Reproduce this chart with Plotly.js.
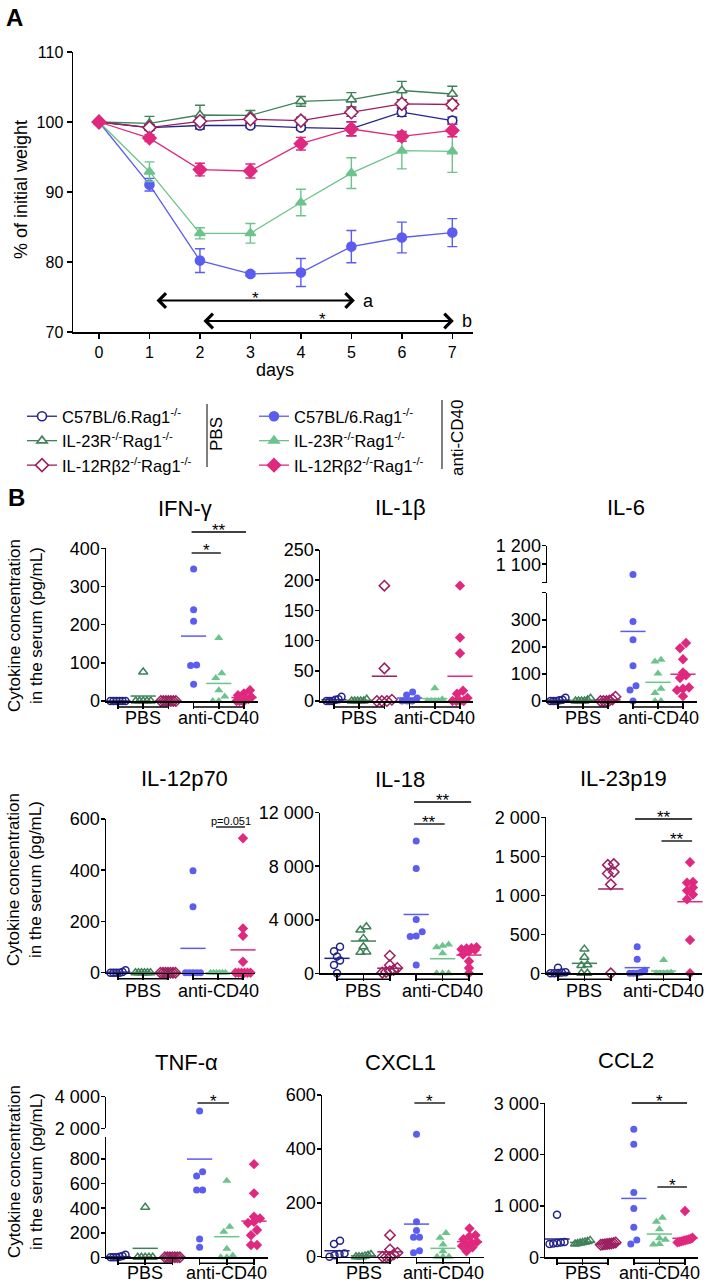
<!DOCTYPE html>
<html><head><meta charset="utf-8">
<script src="https://cdn.plot.ly/plotly-3.0.1.min.js"></script>
<style>html,body{margin:0;padding:0;background:#fff}#chart{width:709px;height:1286px}</style>
</head><body><div id="chart"></div>
<script>
// ================= DATA =================
// Panel A: body weight (% of initial) by day
const days = [0,1,2,3,4,5,6,7];
const wPbsC57   = [100, 99.2, 99.5, 99.5, 99.2, 99.05, 101.4, 100.2];
const ePbsC57   = [0, 0.3, 0.5, 0.3, 0.3, 1.0, 0.6, 0.5];
const wPbsIL23  = [100, 99.8, 101.0, 100.95, 102.95, 103.2, 104.5, 104.0];
const ePbsIL23  = [0, 1.0, 1.4, 0.7, 0.7, 1.0, 1.3, 1.1];
const wPbsIL12  = [100, 99.2, 100.1, 100.4, 100.2, 101.4, 102.6, 102.5];
const ePbsIL12  = [0, 0.4, 0.5, 0.5, 0.5, 0.6, 0.6, 0.6];
const wAntiC57  = [100, 91.05, 80.2, 78.3, 78.5, 82.2, 83.5, 84.2];
const eAntiC57  = [0, 0.9, 1.7, 0.3, 2.0, 2.3, 2.2, 2.0];
const wAntiIL23 = [100, 92.9, 84.1, 84.1, 88.5, 92.7, 95.9, 95.8];
const eAntiIL23 = [0, 1.4, 0.8, 1.4, 1.9, 2.2, 2.6, 3.0];
const wAntiIL12 = [100, 97.7, 93.2, 93.0, 96.9, 99.0, 97.95, 98.8];
const eAntiIL12 = [0, 0.5, 0.9, 1.0, 0.9, 1.0, 0.7, 0.9];

const strainNames = ['C57BL/6.Rag1<sup>-/-</sup>', 'IL-23R<sup>-/-</sup>Rag1<sup>-/-</sup>', 'IL-12Rβ2<sup>-/-</sup>Rag1<sup>-/-</sup>'];
const treatments = ['PBS', 'anti-CD40'];
const cytokines = ['IFN-γ','IL-1β','IL-6','IL-12p70','IL-18','IL-23p19','TNF-α','CXCL1','CCL2'];

// Panel B: cytokine concentrations (pg/mL); group order:
// PBS C57, PBS IL-23R, PBS IL-12Rb2, anti-CD40 C57, anti-CD40 IL-23R, anti-CD40 IL-12Rb2
const ifng = [[0,0,0,0,0,0],[76,0,0,0,0,0],[0,0,0,0,0,0,0],[346,239,209,94,93,44],[165,73,60,28,12,0,0],[28,20,15,10,5,3,0,0,0]];
const ifngMean = [0,13,0,170,46,9];
const il1b = [[7,3,2,0,0,0],[3,0,0,0,0,0],[191,54,2,0,0,0],[15,10,5,0,0,0],[21,3,0,0,0,0],[191,105,79,17,12,5,0,0,0,0]];
const il1bMean = [2,1,41,5,4,41];
const il6 = [[12,5,3,0,0,0],[10,4,0,0,0,0],[16,6,2,0,0,0],[1045,294,226,130,56,41,0],[152,146,102,45,30,0,0],[214,195,154,105,95,85,50,45,40,18]];
const il6Mean = [3,2,4,257,69,99];
const il12p70 = [[10,3,0,0,0,0],[0,0,0,0,0,0],[0,0,0,0,0,0,0],[398,257,0,0,0,0,0],[0,0,0,0,0,0],[525,173,144,43,0,0,0,0,0,0]];
const il12p70Mean = [2,0,0,95,0,89];
const il18 = [[1980,1650,1250,950,620,0],[3475,3230,2610,1985,1600,1565],[1310,600,400,250,150,100,50],[9880,7825,4024,3100,2780,2750,620],[2150,2050,1950,1500,0,0,0],[1950,1900,1850,1800,1750,1650,1400,900,400,0]];
const il18Mean = [1118,2410,380,4396,1090,1364];
const il23p19 = [[70,15,10,5,0,0],[310,205,110,100,0,0],[1400,1390,1300,1280,1140,0],[340,180,40,15,0,0,0],[170,10,5,0,0,0],[1423,1170,1160,1100,1060,1010,950,427,0]];
const il23p19Mean = [10,128,1081,72,30,918];
const tnfa = [[20,10,5,0,0,0],[407,0,0,0,0,0],[0,0,0,0,0,0,0],[3095,697,662,548,548,149,81],[623,249,208,70,15,0,0],[759,521,330,317,290,280,222,180,100,100]];
const tnfaMean = [5,73,0,800,168,295];
const cxcl1 = [[59,47,12,10,5,0],[8,5,3,0,0,0],[80,27,15,8,0,0,0],[454,130,97,72,72,22,15],[88,70,45,20,0,0,0],[105,80,75,65,55,50,45,40,35,20]];
const cxcl1Mean = [22,3,18,121,31,56];
const ccl2 = [[830,300,290,280,270,260],[330,310,300,290,280,270,260],[290,280,270,265,260,255,250,245],[2496,2204,1264,953,583,336,259],[770,693,545,370,340,260,250],[901,380,360,350,340,330,320,310,300,290]];
const ccl2Mean = [356,290,265,1147,453,370];

// significance labels: panel, group a, group b, label
const sigLabels = [
 [0,3,5,'**'],[0,3,4,'*'],[3,4,5,'p=0.051'],[4,3,5,'**'],[4,3,4,'**'],
 [5,3,5,'**'],[5,4,5,'**'],[6,3,4,'*'],[7,3,4,'*'],[8,3,5,'*'],[8,4,5,'*']
];

// ================= STYLE / LAYOUT =================
const W = 709, H = 1286;
const PX = p => p / W, PY = p => 1 - p / H;
const FONT = '"Liberation Sans", Arial, Helvetica, sans-serif';
const colPbs = ['#23238c', '#3f8158', '#9c1f60'];
const colAnti = ['#5b5cf0', '#6cc38c', '#e0287e'];
const groupColors = colPbs.concat(colAnti);
const groupSymbols = ['circle','triangle-up','diamond','circle','triangle-up','diamond'];
const groupOpen = [true,true,true,false,false,false];

const panelData = [ifng, il1b, il6, il12p70, il18, il23p19, tnfa, cxcl1, ccl2];
const panelMeans = [ifngMean, il1bMean, il6Mean, il12p70Mean, il18Mean, il23p19Mean, tnfaMean, cxcl1Mean, ccl2Mean];

// pixel geometry of each panel
const geo = [
 {x0:106,c0:118,sp:25.2,x1:258, yb:701, yt:548.3, r:[0,400], tv:[0,100,200,300,400], title:[185,509], lab:718},
 {x0:320,c0:334,sp:25.2,x1:473, yb:701, yt:550, r:[0,250], tv:[0,50,100,150,200,250], title:[400,507], lab:718},
 {x0:547,c0:558,sp:25,x1:697, yb:701, yt:592.7, r:[0,400], tv:[0,100,200,300,400], tt:['0','100','200','300',' '],
   upper:{yb:582.7, yt:545.7, r:[1000,1200], tv:[1000,1100,1200], tt:[' ','1 100','1 200']}, title:[626,507], lab:718},
 {x0:106,c0:118,sp:25,x1:255, yb:972.7, yt:819, r:[0,600], tv:[0,200,400,600], title:[184,778], lab:991},
 {x0:320,c0:337,sp:26.4,x1:483, yb:973.3, yt:812.7, r:[0,12000], tv:[0,4000,8000,12000], title:[400,779], lab:991},
 {x0:546,c0:558,sp:26.4,x1:702, yb:973.3, yt:817.3, r:[0,2000], tv:[0,500,1000,1500,2000], title:[623,778], lab:991},
 {x0:106,c0:118,sp:27.2,x1:268, yb:1257.3, yt:1137, r:[0,980], tv:[0,200,400,600,800],
   upper:{yb:1128.3, yt:1096.7, r:[2000,4000], tv:[2000,4000], tt:['2 000','4 000']}, title:[187,1062], lab:1273},
 {x0:322,c0:337,sp:26.5,x1:484, yb:1256.7, yt:1095, r:[0,600], tv:[0,200,400,600], title:[400,1062], lab:1273},
 {x0:545,c0:557,sp:25.6,x1:698, yb:1257.3, yt:1103.3, r:[0,3000], tv:[0,1000,2000,3000], title:[626,1060], lab:1273}
];
const sigY = [532,553,827,802,824,819,841,1103,1103,1103,1187];

const axisStyle = {showline:true, linecolor:'#000', linewidth:1.5, ticks:'outside', ticklen:5, tickwidth:1.5, tickcolor:'#000',
  showgrid:false, zeroline:false, fixedrange:true, separatethousands:true, exponentformat:'none', tickformat:',d'};

const traces = [];
const annotations = [];
const shapes = [];
const legendFont = {size:16.5, family:FONT};
const layout = {
  width:W, height:H, margin:{l:0,r:0,t:0,b:0}, paper_bgcolor:'#fff', plot_bgcolor:'rgba(0,0,0,0)',
  font:{family:FONT, color:'#000', size:16}, separators:'. ', showlegend:true,
  legend:{x:PX(22), y:PY(399), xanchor:'left', yanchor:'top', font:legendFont, bgcolor:'rgba(0,0,0,0)', itemwidth:30, traceorder:'normal'},
  legend2:{x:PX(254), y:PY(399), xanchor:'left', yanchor:'top', font:legendFont, bgcolor:'rgba(0,0,0,0)', itemwidth:30, traceorder:'normal'},
  annotations, shapes
};
function label(px, py, text, size, extra) {
  annotations.push(Object.assign({xref:'paper', yref:'paper', x:PX(px), y:PY(py), text:text, showarrow:false,
    xanchor:'center', yanchor:'middle', font:{size:size}}, extra || {}));
}

// ---------- Panel A ----------
layout.xaxis = Object.assign({}, axisStyle, {domain:[PX(73), PX(473)], range:[-0.515, 7.41], anchor:'y', tickvals:days, tickfont:{size:16}});
layout.yaxis = Object.assign({}, axisStyle, {domain:[PY(332), PY(52)], range:[70,110], anchor:'x', tickvals:[70,80,90,100,110], tickfont:{size:16}});
const aSeries = [[wPbsC57,ePbsC57],[wPbsIL23,ePbsIL23],[wPbsIL12,ePbsIL12],[wAntiC57,eAntiC57],[wAntiIL23,eAntiIL23],[wAntiIL12,eAntiIL12]];
aSeries.forEach((s,g) => {
  const c = groupColors[g];
  traces.push({type:'scatter', mode:'lines+markers', x:days, y:s[0], name:strainNames[g%3],
    legend: g<3 ? 'legend' : 'legend2', xaxis:'x', yaxis:'y', cliponaxis:false,
    error_y:{type:'data', array:s[1], visible:true, color:c, thickness:1.4, width:5},
    line:{color:c, width:1.3},
    marker:{symbol:groupSymbols[g], size: g%3===2 ? 10 : 9, color: groupOpen[g] ? '#fff' : c, line:{color:c, width:1.6}}});
});
const arrowsA = [{from:1.07, to:5.07, y:74.5, star:3.1, label:'a'}, {from:2.0, to:7.03, y:71.57, star:4.42, label:'b'}];
arrowsA.forEach(a => {
  annotations.push({xref:'x', yref:'y', axref:'x', ayref:'y', x:a.to, y:a.y, ax:a.from, ay:a.y, text:' ', showarrow:true,
    arrowhead:4, startarrowhead:4, arrowside:'end+start', arrowsize:1.4, startarrowsize:1.4, arrowwidth:2, arrowcolor:'#000'});
  annotations.push({xref:'x', yref:'y', x:a.star, y:a.y, yshift:2, text:'*', showarrow:false, xanchor:'center', yanchor:'middle', font:{size:17}});
  annotations.push({xref:'x', yref:'y', x:a.to, y:a.y, text:a.label, showarrow:false, xanchor:'left', xshift:6, yanchor:'middle', font:{size:18}});
});
label(21, 190, '% of initial weight', 18, {textangle:-90});
label(275, 370, 'days', 18);
label(15, 17, '<b>A</b>', 24);
label(16, 497, '<b>B</b>', 24);
// legend group labels
label(216, 434, treatments[0], 17, {textangle:-90});
label(457, 438, treatments[1], 17, {textangle:-90});
shapes.push({type:'line', xref:'paper', yref:'paper', x0:PX(207), x1:PX(207), y0:PY(404), y1:PY(467), line:{color:'#000', width:1}});
shapes.push({type:'line', xref:'paper', yref:'paper', x0:PX(442), x1:PX(442), y0:PY(400), y1:PY(469), line:{color:'#000', width:1}});

// ---------- Panel B ----------
function swarm(vals, toPx, sp) {
  const d = 6.5;
  const order = vals.map((v,i)=>i).sort((a,b)=>vals[a]-vals[b]);
  const off = new Array(vals.length).fill(0);
  let i = 0;
  while (i < order.length) {
    const row = [order[i]]; const p0 = toPx(vals[order[i]]);
    let j = i+1;
    while (j < order.length && Math.abs(toPx(vals[order[j]]) - p0) < d*0.8) { row.push(order[j]); j++; }
    const n = row.length; const step = n>1 ? Math.min(6, 15/(n-1)) : 0;
    row.forEach((k,m) => off[k] = (m-(n-1)/2)*step/sp);
    i = j;
  }
  return off;
}

let upperId = 11;
geo.forEach((g,i) => {
  const n = i+2;
  const xr = [-(g.c0-g.x0)/g.sp, (g.x1-g.c0)/g.sp];
  layout['xaxis'+n] = Object.assign({}, axisStyle, {domain:[PX(g.x0), PX(g.x1)], range:xr, anchor:'y'+n, ticklen:6,
    tickvals:[0,1,2,3,4,5], showticklabels:false});
  const ycfg = Object.assign({}, axisStyle, {domain:[PY(g.yb), PY(g.yt)], range:g.r, anchor:'x'+n, tickvals:g.tv, tickfont:{size:18}, ticklen:4, ticklabelstandoff:-3});
  if (g.tt) ycfg.ticktext = g.tt;
  layout['yaxis'+n] = ycfg;
  let uid = null;
  if (g.upper) {
    uid = upperId++;
    layout['yaxis'+uid] = Object.assign({}, axisStyle, {domain:[PY(g.upper.yb), PY(g.upper.yt)], range:g.upper.r, anchor:'x'+n,
      tickvals:g.upper.tv, ticktext:g.upper.tt, tickfont:{size:18}, ticklen:4, ticklabelstandoff:-3});
  }
  const toPx = v => {
    if (g.upper && v > g.r[1]) return g.upper.yb - (v-g.upper.r[0])/(g.upper.r[1]-g.upper.r[0])*(g.upper.yb-g.upper.yt);
    return g.yb - (v-g.r[0])/(g.r[1]-g.r[0])*(g.yb-g.yt);
  };
  panelData[i].forEach((vals, gi) => {
    const off = swarm(vals, toPx, g.sp);
    const c = groupColors[gi];
    const mk = {symbol: groupSymbols[gi] + (groupOpen[gi] ? '-open' : ''), size: groupSymbols[gi]==='circle' ? 7 : 8,
      color:c, line:{color:c, width: groupOpen[gi] ? 1.5 : 0}};
    const lowX=[], lowY=[], upX=[], upY=[];
    vals.forEach((v,k) => {
      if (g.upper && v > g.r[1]) { upX.push(gi+off[k]); upY.push(v); } else { lowX.push(gi+off[k]); lowY.push(v); }
    });
    traces.push({type:'scatter', mode:'markers', x:lowX, y:lowY, xaxis:'x'+n, yaxis:'y'+n, marker:mk, showlegend:false, cliponaxis:false, hoverinfo:'skip'});
    if (upX.length) traces.push({type:'scatter', mode:'markers', x:upX, y:upY, xaxis:'x'+n, yaxis:'y'+uid, marker:mk, showlegend:false, cliponaxis:false, hoverinfo:'skip'});
    const m = panelMeans[i][gi];
    const onUpper = g.upper && m > g.r[1];
    traces.push({type:'scatter', mode:'markers', x:[gi], y:[m], xaxis:'x'+n, yaxis: onUpper ? 'y'+uid : 'y'+n,
      marker:{symbol:'line-ew', size:18, line:{color:c, width:1.5}}, showlegend:false, cliponaxis:false, hoverinfo:'skip'});
  });
  const cat = k => g.c0 + k*g.sp;
  // group underline brackets
  [[0,2],[3,5]].forEach(([a,b]) => shapes.push({type:'line', xref:'paper', yref:'paper', x0:PX(cat(a)), x1:PX(cat(b)),
    y0:PY(g.yb+6), y1:PY(g.yb+6), line:{color:'#000', width:1.5}}));
  // group labels
  label(cat(1), g.lab, treatments[0], 18);
  label(cat(4), g.lab, treatments[1], 18);
  // title
  label(g.title[0], g.title[1], cytokines[i], 22);
});

// significance brackets
sigLabels.forEach((s,k) => {
  const g = geo[s[0]];
  const cat = c => g.c0 + c*g.sp;
  const ly = sigY[k];
  const xa = cat(s[1]) - 0.08*g.sp, xb = cat(s[2]) + 0.08*g.sp;
  shapes.push({type:'line', xref:'paper', yref:'paper', x0:PX(xa), x1:PX(xb), y0:PY(ly), y1:PY(ly), line:{color:'#000', width:1.3}});
  const small = s[3].length > 2;
  if (small) label((xa+xb)/2, ly + 2, s[3], 11, {yanchor:'bottom'});
  else label((xa+xb)/2, ly - 2, s[3], 17);
});

// y-axis titles for panel B rows
[626, 880, 1172].forEach(cy => label(25, cy, 'Cytokine concentration<br>in the serum (pg/mL)', 17, {textangle:-90}));

Plotly.newPlot('chart', traces, layout, {staticPlot:true, displayModeBar:false});
</script>
</body></html>
